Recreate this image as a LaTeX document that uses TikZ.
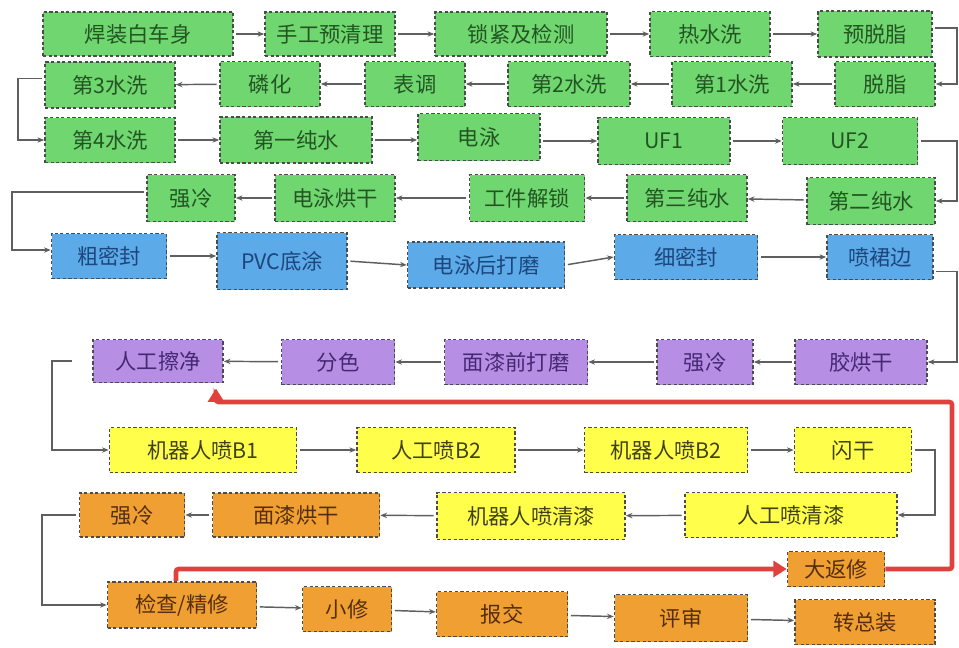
\documentclass[tikz,border=0pt]{standalone}
\usepackage{fontspec}
\setmainfont{Noto Sans CJK SC}
\usetikzlibrary{arrows.meta}
\definecolor{gfill}{RGB}{112,214,112}
\definecolor{gtext}{RGB}{35,85,35}
\definecolor{bfill}{RGB}{92,170,232}
\definecolor{btext}{RGB}{28,70,125}
\definecolor{pfill}{RGB}{182,142,228}
\definecolor{ptext}{RGB}{70,40,115}
\definecolor{yfill}{RGB}{255,255,75}
\definecolor{ytext}{RGB}{65,65,25}
\definecolor{ofill}{RGB}{240,160,50}
\definecolor{otext}{RGB}{85,45,15}
\definecolor{bordc}{RGB}{75,75,75}
\definecolor{linec}{RGB}{95,95,95}
\definecolor{redc}{RGB}{225,65,60}
\begin{document}
\begin{tikzpicture}[x=0.75pt,y=-0.75pt,
  box/.style={draw=bordc, dash pattern=on 2.4pt off 1.8pt, line width=1.2pt, inner sep=0pt,
    font=\fontsize{16}{16}\selectfont},
  sz/.style 2 args={minimum width=#1*0.75pt, minimum height=#2*0.75pt},
  gbox/.style={box, fill=gfill, text=gtext},
  bbox/.style={box, fill=bfill, text=btext},
  pbox/.style={box, fill=pfill, text=ptext},
  ybox/.style={box, fill=yfill, text=ytext},
  obox/.style={box, fill=ofill, text=otext},
  conn/.style={draw=linec, line width=1.1pt, -{Stealth[length=5pt,width=4pt]}, shorten <=2pt},
  redline/.style={draw=redc, line width=3.5pt, -{Triangle[length=10pt,width=12pt]}}
]
\useasboundingbox (0,0) rectangle (959,647);
% Row 1
\node[gbox, sz={190}{44}] (n1) at (138,34) {焊装白车身};
\node[gbox, sz={130}{44}] (n2) at (330,34) {手工预清理};
\node[gbox, sz={172}{44}] (n3) at (521,34) {锁紧及检测};
\node[gbox, sz={120}{45}] (n4) at (710,34) {热水洗};
\node[gbox, sz={114}{46}] (n5) at (875,34) {预脱脂};
% Row 2
\node[gbox, sz={100}{45}] (n6) at (885,84) {脱脂};
\node[gbox, sz={120}{45}] (n7) at (732,84) {第1水洗};
\node[gbox, sz={122}{45}] (n8) at (569,84) {第2水洗};
\node[gbox, sz={100}{45}] (n9) at (415,84) {表调};
\node[gbox, sz={100}{45}] (n10) at (270,84) {磷化};
\node[gbox, sz={130}{46}] (n11) at (110,85) {第3水洗};
% Row 3
\node[gbox, sz={130}{45}] (n12) at (110,140) {第4水洗};
\node[gbox, sz={152}{46}] (n13) at (296,140) {第一纯水};
\node[gbox, sz={122}{47}] (n14) at (479,137) {电泳};
\node[gbox, sz={132}{47}] (n15) at (664,141) {UF1};
\node[gbox, sz={135}{47}] (n16) at (850,141) {UF2};
% Row 4
\node[gbox, sz={128}{47}] (n17) at (871,201) {第二纯水};
\node[gbox, sz={120}{47}] (n18) at (687,198) {第三纯水};
\node[gbox, sz={115}{47}] (n19) at (527,198) {工件解锁};
\node[gbox, sz={120}{47}] (n20) at (335,198) {电泳烘干};
\node[gbox, sz={88}{47}] (n21) at (191,198) {强冷};
% Row 5
\node[bbox, sz={115}{45}] (n22) at (109,256) {粗密封};
\node[bbox, sz={130}{57}] (n23) at (282,261) {PVC底涂};
\node[bbox, sz={157}{46}] (n24) at (486,265) {电泳后打磨};
\node[bbox, sz={143}{45}] (n25) at (686,257) {细密封};
\node[bbox, sz={106}{45}] (n26) at (880,257) {喷裙边};
% Row 6
\node[pbox, sz={132}{45}] (n27) at (861,362) {胶烘干};
\node[pbox, sz={96}{45}] (n28) at (705,362) {强冷};
\node[pbox, sz={143}{45}] (n29) at (516,362) {面漆前打磨};
\node[pbox, sz={113}{45}] (n30) at (338,362) {分色};
\node[pbox, sz={130}{43}] (n31) at (158,361) {人工擦净};
% Row 7
\node[ybox, sz={187}{45}] (n32) at (203,450) {机器人喷B1};
\node[ybox, sz={158}{45}] (n33) at (436,450) {人工喷B2};
\node[ybox, sz={163}{45}] (n34) at (666,450) {机器人喷B2};
\node[ybox, sz={117}{45}] (n35) at (853,450) {闪干};
% Row 8
\node[ybox, sz={212}{45}] (n36) at (791,515) {人工喷清漆};
\node[ybox, sz={188}{47}] (n37) at (531,516) {机器人喷清漆};
\node[obox, sz={167}{44}] (n38) at (296,515) {面漆烘干};
\node[obox, sz={105}{44}] (n39) at (132,515) {强冷};
% Row 9
\node[obox, sz={149}{46}] (n40) at (182,605) {检查/精修};
\node[obox, sz={89}{45}] (n41) at (347,609) {小修};
\node[obox, sz={131}{45}] (n42) at (502,614) {报交};
\node[obox, sz={133}{47}] (n43) at (681,618) {评审};
\node[obox, sz={140}{45}] (n44) at (865,622) {转总装};
\node[obox, sz={97}{35}] (n45) at (836,569) {大返修};
% turn points
\coordinate (R1) at (957,0);
\coordinate (L1) at (18,0);
\coordinate (L2) at (12,0);
\coordinate (L3) at (52,0);
\coordinate (R2) at (935,0);
\coordinate (L4) at (42,0);
\coordinate (RR) at (952,402);
\coordinate (RT) at (216,402);
\coordinate (RB) at (176,569);
% connectors
\draw[conn] (n1) -- (n2);
\draw[conn] (n2) -- (n3);
\draw[conn] (n3) -- (n4);
\draw[conn] (n4) -- (n5);
\draw[conn] ([yshift=4.5pt]n5.east) -- ([yshift=4.5pt]n5.east -| R1) |- (n6.east);
\draw[conn] (n6) -- (n7);
\draw[conn] (n7) -- (n8);
\draw[conn] (n8) -- (n9);
\draw[conn] (n9) -- (n10);
\draw[conn] (n10) -- (n11);
\draw[conn] ([yshift=5pt]n11.west) -- ([yshift=5pt]n11.west -| L1) |- (n12.west);
\draw[conn] (n12) -- (n13);
\draw[conn] (n13.east) -- (n14.west |- n13.east);
\draw[conn] (n14.east |- n15.west) -- (n15.west);
\draw[conn] (n15) -- (n16);
\draw[conn] (n16.east) -- (n16.east -| R1) |- (n17.east);
\draw[conn] (n17) -- (n18);
\draw[conn] (n18) -- (n19);
\draw[conn] (n19) -- (n20);
\draw[conn] (n20) -- (n21);
\draw[conn] ([yshift=4.5pt]n21.west) -- ([yshift=4.5pt]n21.west -| L2) |- ([yshift=4.5pt]n22.west);
\draw[conn] (n22.east) -- (n23.west |- n22.east);
\draw[conn] (n23.east) -- (n24.west);
\draw[conn] (n24.east) -- (n25.west);
\draw[conn] (n25) -- (n26);
\draw[conn] ([yshift=-11pt]n26.east) -- ([yshift=-11pt]n26.east -| R1) |- (n27.east);
\draw[conn] (n27) -- (n28);
\draw[conn] (n28) -- (n29);
\draw[conn] (n29) -- (n30);
\draw[conn] (n30) -- (n31);
\draw[conn, shorten <=15pt] (n31.west) -- (n31.west -| L3) |- (n32.west);
\draw[conn] (n32) -- (n33);
\draw[conn] (n33) -- (n34);
\draw[conn] (n34) -- (n35);
\draw[conn] (n35.east) -- (n35.east -| R2) |- (n36.east);
\draw[conn] (n36) -- (n37);
\draw[conn] (n37) -- (n38);
\draw[conn] (n38) -- (n39);
\draw[conn] (n39.west) -- (n39.west -| L4) |- (n40.west);
\draw[conn] (n40) -- (n41);
\draw[conn] (n41) -- (n42);
\draw[conn] (n42) -- (n43);
\draw[conn] (n43) -- (n44);
% red return lines
\draw[redline, shorten >=4pt, rounded corners=2pt] (n45.east) -| (RR) -- (RT) -- (n31.south -| RT);
\draw[redline, rounded corners=2pt] (n40.north -| RB) -- (RB) -- (n45.west);
\end{tikzpicture}
\end{document}
